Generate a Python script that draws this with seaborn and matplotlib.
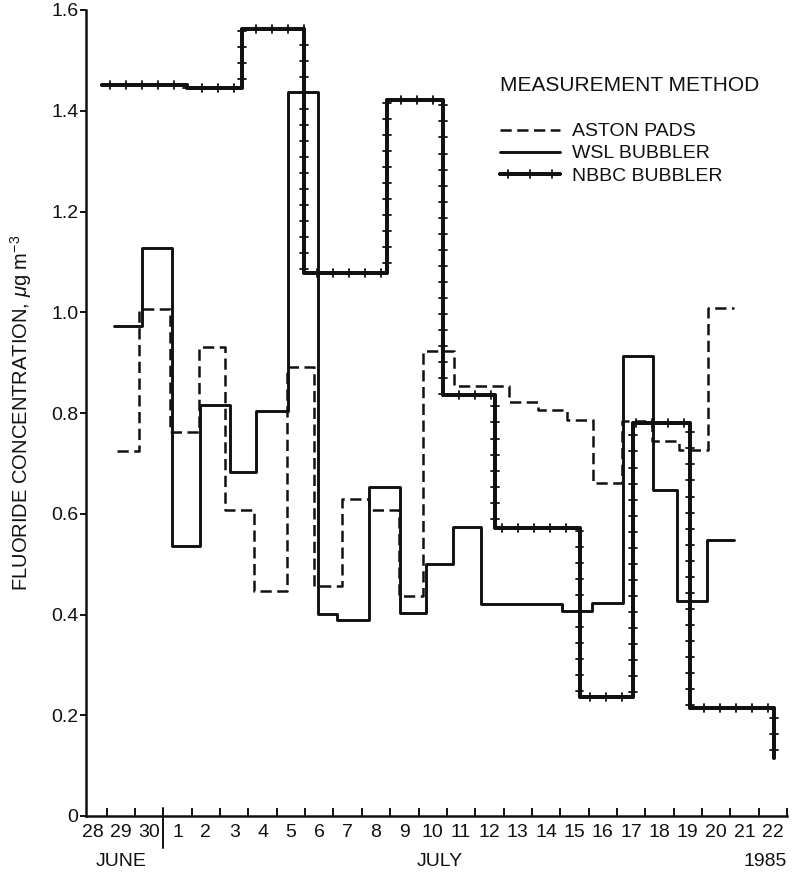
import numpy as np
import pandas as pd
import matplotlib
matplotlib.use("Agg")
import matplotlib.pyplot as plt
import matplotlib.patheffects as pe
import matplotlib.transforms as mtransforms
import seaborn as sns

# ---------------- data ----------------
# x unit: days counted from 00:00 on 28 June 1985 (tick k = start of k-th day)
day_labels = ["28", "29", "30"] + [str(d) for d in range(1, 23)]
y_ticks = [0, 0.2, 0.4, 0.6, 0.8, 1.0, 1.2, 1.4, 1.6]
y_tick_labels = ["0", "0.2", "0.4", "0.6", "0.8", "1.0", "1.2", "1.4", "1.6"]
month_labels = ["JUNE", "JULY", "1985"]

# Aston pads: period start edges (+ final end) and concentrations
aston_edges = [1.35, 2.15, 3.23, 4.27, 5.17, 6.20, 7.35, 8.33, 9.29, 10.27, 11.32,
               12.17, 13.27, 15.21, 16.23, 17.24, 18.15, 19.18, 20.24, 21.18, 22.23, 23.12]
aston_values = [0.725, 1.006, 0.763, 0.932, 0.607, 0.447, 0.891, 0.456, 0.629, 0.607,
                0.437, 0.923, 0.854, 0.822, 0.805, 0.786, 0.662, 0.785, 0.745, 0.727, 1.008]

# WSL bubbler
wsl_edges = [1.27, 2.25, 3.29, 4.29, 5.35, 6.27, 7.41, 8.45, 9.12, 10.27, 11.35,
             12.27, 13.20, 14.20, 17.06, 18.12, 19.23, 20.29, 21.12, 22.18, 23.12]
wsl_values = [0.973, 1.127, 0.535, 0.816, 0.682, 0.803, 1.437, 0.401, 0.389, 0.654,
              0.402, 0.500, 0.573, 0.421, 0.407, 0.422, 0.913, 0.647, 0.427, 0.547]

# NBBC bubbler (last period ends with a drop to a final reading)
nbbc_edges = [0.82, 3.82, 5.76, 7.97, 10.90, 12.88, 14.71, 17.68, 19.56, 21.59, 24.53]
nbbc_values = [1.452, 1.445, 1.562, 1.078, 1.421, 0.836, 0.572, 0.236, 0.781, 0.215]
nbbc_final = 0.115


def step_frame(edges, values, final=None):
    y = list(values) + [values[-1] if final is None else final]
    return pd.DataFrame({"day": edges, "conc": y})


aston_df = step_frame(aston_edges, aston_values)
wsl_df = step_frame(wsl_edges, wsl_values)
nbbc_df = step_frame(nbbc_edges, nbbc_values, nbbc_final)

# ---------------- style ----------------
sns.set_style("ticks")
plt.rcParams["font.family"] = ["Liberation Sans", "DejaVu Sans"]
plt.rcParams["mathtext.fontset"] = "custom"
plt.rcParams["mathtext.rm"] = "Liberation Sans"
plt.rcParams["mathtext.it"] = "Liberation Sans:italic"
ink = "#111111"

fig = plt.figure(figsize=(7.98, 8.77), dpi=100)
ax = fig.add_axes([86 / 798, 61 / 877, 701 / 798, 806 / 877])

sns.lineplot(data=aston_df, x="day", y="conc", drawstyle="steps-post",
             estimator=None, sort=False, ax=ax, color=ink, lw=1.8,
             linestyle=(0, (4.5, 2.2)), label="ASTON PADS")
sns.lineplot(data=wsl_df, x="day", y="conc", drawstyle="steps-post",
             estimator=None, sort=False, ax=ax, color=ink, lw=2.1,
             label="WSL BUBBLER")
ticked = [pe.withTickedStroke(angle=90, spacing=11.5, length=0.25, linewidth=1.3),
          pe.withTickedStroke(angle=-90, spacing=11.5, length=0.25, linewidth=1.3),
          pe.Normal()]
sns.lineplot(data=nbbc_df, x="day", y="conc", drawstyle="steps-post",
             estimator=None, sort=False, ax=ax, color=ink, lw=2.6,
             path_effects=ticked, label="NBBC BUBBLER")

# ---------------- axes ----------------
n_days = len(day_labels)
ax.set_xlim(0.27, n_days)
ax.set_ylim(0, 1.6)
ax.set_xticks(np.arange(1, n_days + 1))
ax.set_xticklabels([])
ax.set_xticks(np.arange(n_days) + 0.5, minor=True)
ax.set_xticklabels(day_labels, minor=True)
ax.tick_params(axis="x", which="major", direction="in", length=6, width=1.4, color=ink)
ax.tick_params(axis="x", which="minor", length=0, pad=6, labelsize=14, labelcolor=ink)
ax.set_yticks(y_ticks)
ax.set_yticklabels(y_tick_labels)
ax.tick_params(axis="y", direction="out", length=4, width=1.4, pad=1.5,
               labelsize=14, colors=ink)
ax.set_xlabel("")
ax.set_ylabel(r"FLUORIDE CONCENTRATION, $\mu$g m$^{-3}$", fontsize=14.5,
              color=ink, labelpad=12)
sns.despine(ax=ax)
for s in ("left", "bottom"):
    ax.spines[s].set_linewidth(1.8)
    ax.spines[s].set_color(ink)

# month divider and month / year labels
trans = mtransforms.blended_transform_factory(ax.transData, ax.transAxes)
month_break = day_labels.index("1")
ax.plot([month_break, month_break], [0.01, -0.04], transform=trans,
        clip_on=False, color=ink, lw=1.4)
ax.text(month_break / 2, -0.057, month_labels[0], transform=trans,
        ha="center", va="center", fontsize=14, color=ink)
ax.text(12.75, -0.057, month_labels[1], transform=trans,
        ha="center", va="center", fontsize=14, color=ink)
ax.text(n_days, -0.057, month_labels[2], transform=trans,
        ha="right", va="center", fontsize=14, color=ink)

# legend
leg = ax.legend(title="MEASUREMENT METHOD", loc="upper left",
                bbox_to_anchor=(500 / 798, 1 - 76 / 877),
                bbox_transform=fig.transFigure, frameon=False, borderpad=0,
                borderaxespad=0, handlelength=3.1, handletextpad=0.62,
                labelspacing=0.23, alignment="left", fontsize=14,
                title_fontsize=15)
leg._legend_box.sep = 20.0
for t in leg.get_texts():
    t.set_color(ink)
leg.get_title().set_color(ink)

fig.savefig("out.png", dpi=100)
